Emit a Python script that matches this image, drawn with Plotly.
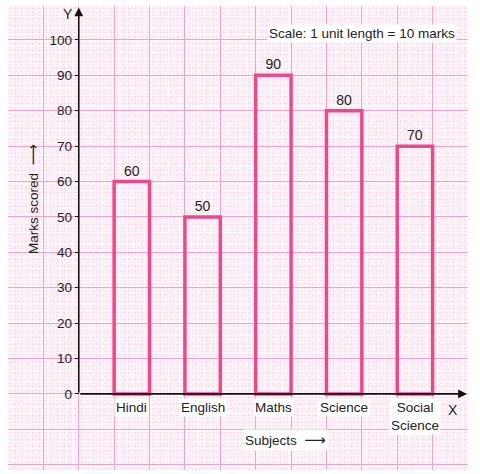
import plotly.graph_objects as go

subjects = ["Hindi", "English", "Maths", "Science", "Social Science"]
subject_labels = ["Hindi", "English", "Maths", "Science", "Social<br>Science"]
marks = [60, 50, 90, 80, 70]
y_tick_vals = [0, 10, 20, 30, 40, 50, 60, 70, 80, 90, 100]

BAR = "#ea4a8c"
GRID = "#f3a2c7"
FINE = "rgba(236,150,190,0.2)"
FONT = "Liberation Sans, Arial, sans-serif"
TXT = "#222222"
ARROW = "<span style='font-family:DejaVu Sans;font-size:15px'>\u27f6</span>"

XR = [-2, 11]
YR = [-21.5, 109.6]

bar_pos = [2 * i + 1.5 for i in range(len(subjects))]

fig = go.Figure()
fig.add_bar(
    x=bar_pos, y=marks, width=1,
    marker=dict(color="rgba(0,0,0,0)", line=dict(color=BAR, width=3.5)),
    text=[str(m) for m in marks], textposition="outside",
    textfont=dict(size=14, color=TXT, family=FONT),
    cliponaxis=False, hoverinfo="skip", showlegend=False,
)
fig.add_scatter(x=[None], y=[None], yaxis="y2", showlegend=False, hoverinfo="skip")

annotations = []
for p, lab in zip(bar_pos, subject_labels):
    annotations.append(dict(x=p, y=0, xref="x", yref="y", text=lab, showarrow=False,
                            yanchor="top", yshift=-4, bgcolor="white",
                            font=dict(size=13.5, color=TXT, family=FONT)))
# axes arrows
annotations.append(dict(x=10.97, y=0, ax=0, ay=0, xref="x", yref="y", axref="x", ayref="y",
                        text="", showarrow=True, arrowhead=2, arrowsize=1.1, arrowwidth=1.6,
                        arrowcolor="#111"))
annotations.append(dict(x=0, y=109.2, ax=0, ay=0, xref="x", yref="y", axref="x", ayref="y",
                        text="", showarrow=True, arrowhead=2, arrowsize=1.1, arrowwidth=1.6,
                        arrowcolor="#111"))
annotations.append(dict(x=10.57, y=-4.5, xref="x", yref="y", text="X", showarrow=False,
                        font=dict(size=14, color=TXT, family=FONT)))
annotations.append(dict(x=-0.3, y=107.3, xref="x", yref="y", text="Y", showarrow=False,
                        font=dict(size=14, color=TXT, family=FONT)))
annotations.append(dict(x=0.77, y=0.962, xref="paper", yref="paper", xanchor="center",
                        text="Scale: 1 unit length = 10 marks", showarrow=False,
                        bgcolor="white", font=dict(size=13.5, color=TXT, family=FONT)))
annotations.append(dict(x=5.85, y=-13, xref="x", yref="y", text="Subjects  " + ARROW,
                        showarrow=False, bgcolor="white",
                        font=dict(size=13.5, color=TXT, family=FONT)))
annotations.append(dict(x=-1.3, y=55, xref="x", yref="y", text="Marks scored  " + ARROW,
                        textangle=-90, showarrow=False,
                        font=dict(size=13.5, color=TXT, family=FONT)))

fig.update_layout(
    width=480, height=474,
    margin=dict(l=8, r=12, t=6, b=4),
    paper_bgcolor="white", plot_bgcolor="#fdf5f9",
    showlegend=False,
    annotations=annotations,
    xaxis=dict(range=XR, dtick=1, tick0=0, showgrid=True, gridcolor=GRID, gridwidth=1.3,
               showticklabels=False, ticks="", zeroline=False, showline=False, fixedrange=True,
               minor=dict(dtick=0.1, showgrid=True, gridcolor=FINE, griddash="dot", gridwidth=1)),
    yaxis=dict(range=YR, dtick=10, tick0=0, showgrid=True, gridcolor=GRID, gridwidth=1.3,
               showticklabels=False, ticks="", zeroline=False, showline=False, fixedrange=True,
               minor=dict(dtick=1, showgrid=True, gridcolor=FINE, griddash="dot", gridwidth=1)),
    yaxis2=dict(range=YR, overlaying="y", anchor="free", position=2 / 13, side="left",
                tickvals=y_tick_vals, ticktext=[str(v) for v in y_tick_vals],
                ticks="outside", ticklen=4, tickcolor="#111", tickwidth=1.2,
                showgrid=False, zeroline=False, showline=False, fixedrange=True,
                tickfont=dict(size=13.5, color=TXT, family=FONT)),
)

fig.write_html("out.html")
